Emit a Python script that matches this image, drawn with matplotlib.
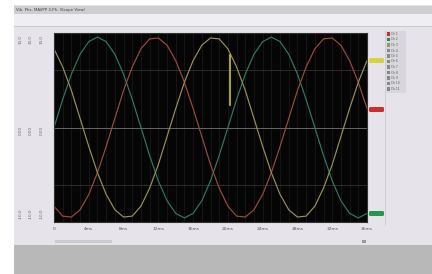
import matplotlib.pyplot as plt
from matplotlib.patches import Rectangle, FancyBboxPatch

# three phase traces, one sample per ms
time_ms = list(range(37))
green = [0.0, 3.1, 5.9, 8.1, 9.5, 10.0, 9.5, 8.1, 5.9, 3.1,
         0.0, -3.1, -5.9, -8.1, -9.5, -10.0, -9.5, -8.1, -5.9, -3.1,
         0.0, 3.1, 5.9, 8.1, 9.5, 10.0, 9.5, 8.1, 5.9, 3.1,
         0.0, -3.1, -5.9, -8.1, -9.5, -10.0, -9.5]
red = [-8.7, -9.8, -9.9, -9.1, -7.4, -5.0, -2.1, 1.0, 4.1, 6.7,
       8.7, 9.8, 9.9, 9.1, 7.4, 5.0, 2.1, -1.0, -4.1, -6.7,
       -8.7, -9.8, -9.9, -9.1, -7.4, -5.0, -2.1, 1.0, 4.1, 6.7,
       8.7, 9.8, 9.9, 9.1, 7.4, 5.0, 2.1]
yellow = [8.7, 6.7, 4.1, 1.0, -2.1, -5.0, -7.4, -9.1, -9.9, -9.8,
          -8.7, -6.7, -4.1, -1.0, 2.1, 5.0, 7.4, 9.1, 9.9, 9.8,
          8.7, 6.7, 4.1, 1.0, -2.1, -5.0, -7.4, -9.1, -9.9, -9.8,
          -8.7, -6.7, -4.1, -1.0, 2.1, 5.0, 7.4]
spike_t = [20.25, 20.25]
spike_v = [8.0, 2.5]

tick_ms = [0, 4, 8, 12, 16, 20, 24, 28, 32, 36]
tick_labels = ["0", "4ms", "8ms", "12ms", "16ms", "20ms", "24ms", "28ms", "32ms", "36ms"]
side_labels = ["10.0", "0.00", "-10.0"]
legend_names = ["Ch 1", "Ch 2", "Ch 3", "Ch 4", "Ch 5", "Ch 6",
                "Ch 7", "Ch 8", "Ch 9", "Ch 10", "Ch 11"]
legend_colors = ["#c03030", "#2a8a50", "#a09a50"] + ["#888888"] * 8

W, H = 432, 274


def fx(x):
    return x / W


def fy(y):
    return 1 - y / H


def box(x0, y0, x1, y1, color, z=-2):
    fig.add_artist(Rectangle((fx(x0), fy(y1)), (x1 - x0) / W, (y1 - y0) / H,
                             transform=fig.transFigure, facecolor=color,
                             edgecolor="none", zorder=z))


fig = plt.figure(figsize=(4.32, 2.74), dpi=100)
fig.patch.set_facecolor("white")

# window frame
box(14, 5, 432, 245, "#e6e4ea", z=-3)
box(14, 245, 432, 274, "#b8b8b8", z=-3)
box(14, 6, 432, 14, "#cdcdd2")
box(14, 14, 432, 26, "#efeef2")
box(14, 26, 432, 27, "#c9c8d0")
fig.text(fx(16), fy(10), "Vib. Phs. MAVPP 3-Ph. (Scope View)", fontsize=2.8,
         color="#444444", va="center")

# left scale columns
box(36.5, 30, 37.2, 226, "#c4c3cc")
box(49.5, 30, 50.2, 226, "#c4c3cc")
for col in [21, 31, 42]:
    for yy, lab in zip([40, 130, 214], side_labels):
        fig.text(fx(col), fy(yy), lab, fontsize=3, color="#666670",
                 rotation=90, ha="center", va="center")

# right marker track
box(367.5, 30, 368.2, 226, "#cfcfd6")
box(385, 30, 385.7, 226, "#cfcfd6")
for yy, c in [(60.5, "#d6d23a"), (109.5, "#d42a2a"), (213.5, "#1f9a48")]:
    fig.add_artist(FancyBboxPatch((fx(369), fy(yy + 2.5)), 15 / W, 5 / H,
                                  boxstyle="round,pad=0,rounding_size=0.004",
                                  transform=fig.transFigure, facecolor=c,
                                  edgecolor="none", zorder=-1))

# legend panel
box(386, 31, 406, 93, "#d8d7de")
for i, (name, c) in enumerate(zip(legend_names, legend_colors)):
    yy = 34 + i * 5.5
    box(387, yy - 1.5, 390, yy + 1.5, c, z=-1)
    fig.text(fx(391), fy(yy), name, fontsize=2.2, color="#555555", va="center")

# bottom scroll bar
box(55, 239.5, 112, 243, "#cacad2")
box(362, 240, 366, 243, "#9a9aa2")

ax = fig.add_axes([fx(54), fy(222), 313 / W, 189 / H])
ax.set_facecolor("#050505")
for t in range(37):
    ax.axvline(t, color="#1d1d1d", lw=0.5, zorder=0)
ax.axhline(0, color="#77776c", lw=0.6, zorder=0)
for v in [6.35, -6.35]:
    ax.axhline(v, color="#3a3a34", lw=0.5, zorder=0)

ax.plot(time_ms, green, color="#2c7c5e", lw=0.85)
ax.plot(time_ms, red, color="#9c4a3c", lw=0.85)
ax.plot(time_ms, yellow, color="#9a9256", lw=0.85)
ax.plot(spike_t, spike_v, color="#c8c040", lw=1.2)

ax.set_xlim(0, 36)
ax.set_ylim(-10.45, 10.45)
ax.set_xticks(tick_ms, tick_labels)
ax.set_yticks([])
ax.tick_params(axis="x", length=0, pad=3.5, labelsize=3.2, labelcolor="#555560")
for s in ax.spines.values():
    s.set_color("#333333")
    s.set_linewidth(0.8)

fig.savefig("out.png", dpi=100)
